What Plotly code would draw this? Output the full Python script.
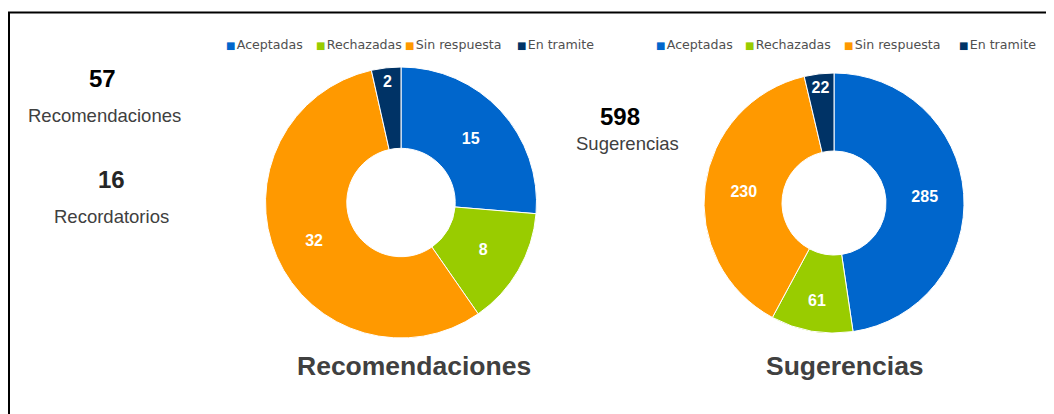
import plotly.graph_objects as go

categories = ["Aceptadas", "Rechazadas", "Sin respuesta", "En tramite"]
colors = ["#0066CC", "#99CC00", "#FF9900", "#003366"]
recomendaciones = [15, 8, 32, 2]
sugerencias = [285, 61, 230, 22]
total_recomendaciones = 57
total_recordatorios = 16
total_sugerencias = 598

# page body has an 8px margin; figure sized to fit the window exactly
OFF = 8
W, H = 1054 - OFF, 414 - OFF

def px_x(v):
    return (v - OFF) / W

def px_y(v):
    return 1 - (v - OFF) / H

fig = go.Figure()

pie_common = dict(
    labels=categories,
    marker=dict(colors=colors, line=dict(color="white", width=1)),
    sort=False,
    direction="clockwise",
    rotation=0,
    hole=0.4,
    textinfo="value",
    textposition="inside",
    insidetextorientation="horizontal",
    textfont=dict(family="Liberation Sans, Arial", size=16, color="white", weight="bold"),
    showlegend=False,
)

fig.add_trace(go.Pie(values=recomendaciones, name="Recomendaciones",
                     domain=dict(x=[px_x(265.5), px_x(536.5)], y=[px_y(338), px_y(67)]),
                     **pie_common))
fig.add_trace(go.Pie(values=sugerencias, name="Sugerencias",
                     domain=dict(x=[px_x(704), px_x(964)], y=[px_y(333), px_y(73)]),
                     **pie_common))

annotations = []

def txt(x, y, text, size, bold=False, color="#404040", xanchor="center"):
    annotations.append(dict(
        x=px_x(x), y=px_y(y), xref="paper", yref="paper", text=text,
        showarrow=False, xanchor=xanchor, yanchor="middle",
        font=dict(family="Liberation Sans, Arial", size=size, color=color,
                  weight="bold" if bold else "normal"),
    ))

txt(102, 78, str(total_recomendaciones), 24, bold=True, color="#000000")
txt(104, 115, "Recomendaciones", 18.5)
txt(111, 179, str(total_recordatorios), 24, bold=True, color="#262626")
txt(111, 216, "Recordatorios", 18.5)
txt(620, 117, str(total_sugerencias), 24, bold=True, color="#000000")
txt(627, 143, "Sugerencias", 18.5)
txt(414, 366, "Recomendaciones", 26.5, bold=True, color="#404040")
txt(845, 366, "Sugerencias", 26.5, bold=True, color="#404040")

legend_x = [[227, 317, 406, 518], [657, 746, 845, 960]]
for xs in legend_x:
    for x, lab, col in zip(xs, categories, colors):
        annotations.append(dict(
            x=px_x(x - 3), y=px_y(45), xref="paper", yref="paper",
            text=f"<span style='color:{col};font-size:10px'>■</span><span style='font-size:4px'> </span>{lab}",
            showarrow=False, xanchor="left", yanchor="middle",
            font=dict(family="DejaVu Sans, Verdana", size=12.6, color="#505050"),
        ))

fig.update_layout(
    width=W, height=H, autosize=False,
    margin=dict(l=0, r=0, t=0, b=0),
    paper_bgcolor="white", plot_bgcolor="white",
    annotations=annotations,
    shapes=[
        dict(type="line", xref="paper", yref="paper", x0=px_x(8), x1=1, y0=px_y(12.5), y1=px_y(12.5),
             line=dict(color="black", width=2)),
        dict(type="line", xref="paper", yref="paper", x0=px_x(9), x1=px_x(9), y0=px_y(12), y1=0,
             line=dict(color="black", width=2)),
    ],
)

fig.write_html("out.html")
